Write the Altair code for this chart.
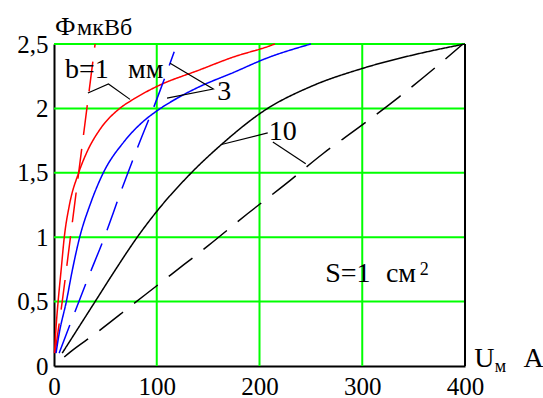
import altair as alt
import pandas as pd

# ---- data ----
red_solid_u = [0.5, 2, 4, 7, 10, 15, 24, 32, 45, 64, 77, 100, 142, 175, 208, 215]
red_solid_phi = [0.1, 0.3, 0.5, 0.75, 1.0, 1.25, 1.5, 1.66, 1.84, 2.0, 2.07, 2.17, 2.3, 2.4, 2.48, 2.5]

red_dash_u = [1, 4, 8, 16, 24, 32, 40]
red_dash_phi = [0.1, 0.27, 0.5, 1.0, 1.5, 2.0, 2.5]

blue_solid_u = [2, 5, 12, 18, 25, 35, 48, 68, 87, 100, 120, 142, 175, 207, 250]
blue_solid_phi = [0.1, 0.25, 0.5, 0.75, 1.0, 1.25, 1.5, 1.74, 1.9, 1.98, 2.08, 2.17, 2.28, 2.39, 2.5]

blue_dash_u = [5, 16, 32, 50, 64, 82, 100, 117]
blue_dash_phi = [0.1, 0.33, 0.66, 1.02, 1.33, 1.71, 2.07, 2.44]

black_solid_u = [8, 20, 40, 60, 81, 100, 130, 163, 206, 250, 300, 347, 381, 400]
black_solid_phi = [0.1, 0.25, 0.5, 0.75, 1.0, 1.2, 1.47, 1.72, 1.99, 2.17, 2.31, 2.41, 2.47, 2.5]

black_dash_u = [10, 16, 40, 77, 114, 151, 188, 225, 262, 298, 336, 373, 398]
black_dash_phi = [0.07, 0.11, 0.25, 0.48, 0.71, 0.94, 1.18, 1.41, 1.65, 1.86, 2.09, 2.33, 2.5]

x_ticks = [0, 100, 200, 300, 400]
y_ticks = [0, 0.5, 1, 1.5, 2, 2.5]
x_grid = [100, 200, 300, 400]
y_grid = [0.5, 1, 1.5, 2, 2.5]

# leader lines: (group, order, u, phi)
lead_g = [1, 1, 1, 2, 2, 2, 3, 3, 4, 4]
lead_i = [0, 1, 2, 0, 1, 2, 0, 1, 0, 1]
lead_u = [33, 53, 74, 113, 155, 110, 163, 208, 213, 245]
lead_p = [2.12, 2.19, 2.07, 2.35, 2.15, 2.08, 1.72, 1.81, 1.74, 1.57]

# annotation texts
ann_text = ["b=1", "мм", "3", "10", "S=1", "см", "Ф", "мкВб", "U", "A"]
ann_u = [10.7, 72, 159, 209, 264, 323, 1, 22.5, 409, 457]
ann_p = [2.236, 2.236, 2.065, 1.755, 0.652, 0.652, 2.57, 2.57, -0.008, -0.008]
ann_size = [28, 28, 28, 28, 28, 28, 26, 24, 28, 28]

small_text = ["2", "м"]
small_u = [356, 429]
small_p = [0.707, -0.047]

FONT = "Liberation Serif"

xs = alt.Scale(domain=[0, 400], nice=False, zero=False)
ys = alt.Scale(domain=[0, 2.5], nice=False, zero=False)

def curve(u, p, name, style):
    return pd.DataFrame({"u": u, "phi": p, "curve": name, "style": style})

curves = pd.concat([
    curve(red_solid_u, red_solid_phi, "r_s", "solid"),
    curve(red_dash_u, red_dash_phi, "r_d", "dash"),
    curve(blue_solid_u, blue_solid_phi, "b_s", "solid"),
    curve(blue_dash_u, blue_dash_phi, "b_d", "dash"),
    curve(black_solid_u, black_solid_phi, "k_s", "solid"),
    curve(black_dash_u, black_dash_phi, "k_d", "dash"),
])

xaxis = alt.Axis(values=x_ticks, grid=False, ticks=False, domainColor="black", domainWidth=2,
                 labelFont=FONT, labelFontSize=25, labelColor="black", labelPadding=8,
                 title=None, labelFlush=False, labelOverlap=False)
yaxis = alt.Axis(values=y_ticks, grid=False, ticks=False, domainColor="black", domainWidth=2,
                 labelFont=FONT, labelFontSize=25, labelColor="black", labelPadding=6,
                 title=None, labelExpr="replace(toString(datum.value), '.', ',')",
                 labelFlush=False, labelOverlap=False)

gx = alt.Chart(pd.DataFrame({"u": x_grid})).mark_rule(color="#00ff00", strokeWidth=2).encode(
    x=alt.X("u:Q", scale=xs, axis=xaxis))
gy = alt.Chart(pd.DataFrame({"phi": y_grid})).mark_rule(color="#00ff00", strokeWidth=2).encode(
    y=alt.Y("phi:Q", scale=ys, axis=yaxis))

lines = alt.Chart(curves).mark_line(strokeWidth=1.5, interpolate="monotone").encode(
    x=alt.X("u:Q", scale=xs),
    y=alt.Y("phi:Q", scale=ys),
    detail="curve:N",
    color=alt.Color("curve:N", scale=alt.Scale(
        domain=["r_s", "r_d", "b_s", "b_d", "k_s", "k_d"],
        range=["#ff0000", "#ff0000", "#0000ff", "#0000ff", "#000000", "#000000"]), legend=None),
    strokeDash=alt.StrokeDash("style:N", scale=alt.Scale(domain=["solid", "dash"],
                                                         range=[[1, 0], [30, 14]]), legend=None),
)

leaders = alt.Chart(pd.DataFrame({"g": lead_g, "i": lead_i, "u": lead_u, "phi": lead_p})).mark_line(
    color="black", strokeWidth=1.2).encode(
    x=alt.X("u:Q", scale=xs), y=alt.Y("phi:Q", scale=ys), detail="g:N", order="i:Q")

texts = alt.Chart(pd.DataFrame({"t": ann_text, "u": ann_u, "phi": ann_p, "s": ann_size})).mark_text(
    font=FONT, align="left", baseline="alphabetic", color="black").encode(
    x=alt.X("u:Q", scale=xs), y=alt.Y("phi:Q", scale=ys), text="t:N",
    size=alt.Size("s:Q", scale=None, legend=None))

small = alt.Chart(pd.DataFrame({"t": small_text, "u": small_u, "phi": small_p})).mark_text(
    font=FONT, align="left", baseline="alphabetic", color="black", fontSize=18).encode(
    x=alt.X("u:Q", scale=xs), y=alt.Y("phi:Q", scale=ys), text="t:N")

border = alt.Chart(pd.DataFrame({"u": [400]})).mark_rule(color="black", strokeWidth=2).encode(
    x=alt.X("u:Q", scale=xs))

chart = alt.layer(gx, gy, lines, leaders, texts, small, border).properties(
    width=411, height=322,
    autosize=alt.AutoSizeParams(type="none"),
    padding={"left": 54, "top": 44, "right": 78, "bottom": 32},
    background="white",
).configure_view(stroke=None)

chart.save("out.html", embed_options={"renderer": "svg", "actions": False})
